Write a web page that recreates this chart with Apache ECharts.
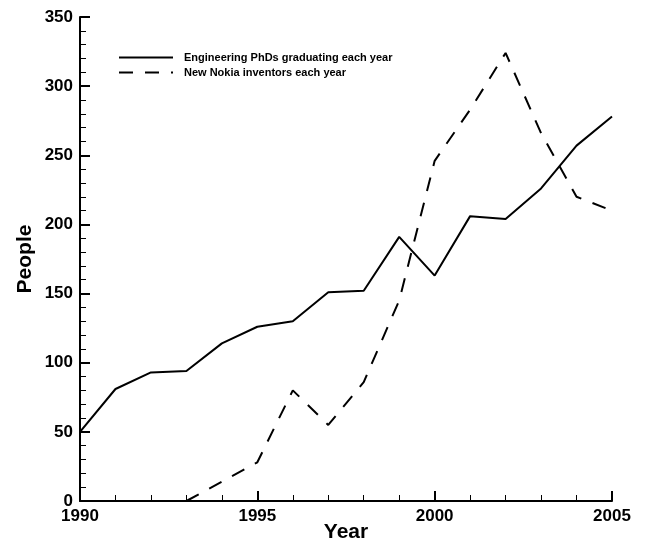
<!DOCTYPE html>
<html>
<head>
<meta charset="utf-8">
<script src="https://cdn.jsdelivr.net/npm/echarts@6/dist/echarts.min.js"></script>
<style>
	html, body { margin: 0; padding: 0; background: #fff; }
	#chart { width: 646px; height: 544px; }
</style>
</head>
<body>
<div id="chart"></div>
<script>
	// values
	var years = [1990, 1991, 1992, 1993, 1994, 1995, 1996, 1997, 1998, 1999, 2000, 2001, 2002, 2003, 2004, 2005];
	var phds = [50, 81, 93, 94, 114, 126, 130, 151, 152, 191, 163, 206, 204, 226, 257, 278];
	var inventorYears = [1993, 1994, 1995, 1996, 1997, 1998, 1999, 2000, 2001, 2002, 2003, 2004, 2005];
	var inventors = [0, 14, 28, 80, 55, 86, 145, 246, 283, 324, 266, 220, 210];
	var seriesNames = ['Engineering PhDs graduating each year', 'New Nokia inventors each year'];

	function pairs(xs, ys) {
		return xs.map(function (x, i) { return [x, ys[i]]; });
	}

	var font = 'Liberation Sans, Arial, Helvetica, sans-serif';
	var myChart = echarts.init(document.getElementById('chart'));
	var axisCommon = {
		axisLine: { onZero: false, lineStyle: { color: '#000', width: 2 } },
		axisTick: { inside: true, length: 10, lineStyle: { color: '#000', width: 2 } },
		minorTick: { show: true, splitNumber: 5, length: 6, lineStyle: { color: '#000', width: 1 } },
		splitLine: { show: false },
		axisLabel: {
			color: '#000', fontFamily: font, fontWeight: 'bold', fontSize: 17,
			formatter: function (v) { return String(v); }
		},
		nameMoveOverlap: false,
		nameTextStyle: { color: '#000', fontFamily: font, fontWeight: 'bold', fontSize: 21 }
	};
	var option = {
		animation: false,
		grid: { left: 80, right: 34, top: 17, bottom: 43, outerBoundsMode: 'none', containLabel: false },
		legend: {
			orient: 'vertical',
			left: 113,
			top: 47,
			itemWidth: 54,
			itemHeight: 12,
			itemGap: 4,
			itemStyle: { color: 'rgba(0,0,0,0)', borderWidth: 0 },
			textStyle: { color: '#000', fontFamily: font, fontWeight: 'bold', fontSize: 11, padding: [0, 0, 0, 6] },
			data: seriesNames
		},
		xAxis: Object.assign({}, axisCommon, {
			type: 'value',
			min: 1990,
			max: 2005,
			interval: 5,
			name: 'Year',
			nameLocation: 'middle',
			nameGap: 21,
			axisLabel: Object.assign({}, axisCommon.axisLabel, { margin: 7 })
		}),
		yAxis: Object.assign({}, axisCommon, {
			type: 'value',
			min: 0,
			max: 350,
			interval: 50,
			name: 'People',
			nameLocation: 'middle',
			nameGap: 44,
			axisLabel: Object.assign({}, axisCommon.axisLabel, { margin: 7 })
		}),
		series: [{
			name: seriesNames[0],
			type: 'line',
			symbol: 'none',
			data: pairs(years, phds),
			lineStyle: { color: '#000', width: 2 },
			itemStyle: { color: '#000' }
		}, {
			name: seriesNames[1],
			type: 'line',
			symbol: 'none',
			data: pairs(inventorYears, inventors),
			lineStyle: { color: '#000', width: 2, type: [14, 12] },
			itemStyle: { color: '#000' }
		}]
	};
	myChart.setOption(option);
</script>
</body>
</html>
